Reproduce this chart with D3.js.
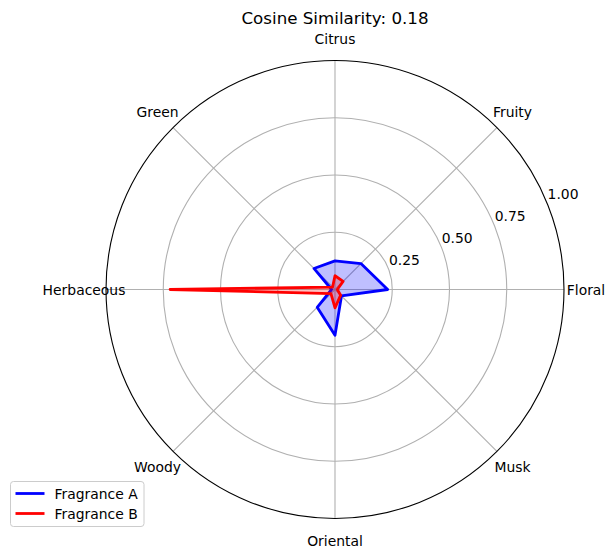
<!DOCTYPE html>
<html>
<head>
<meta charset="utf-8">
<script src="https://cdn.jsdelivr.net/npm/d3@7"></script>
<style>
  body { margin: 0; background: #fff; }
  svg { font-family: "DejaVu Sans", sans-serif; }
</style>
</head>
<body>
<div id="vis"></div>
<script>
// categorias en orden antihorario desde 0 grados (derecha)
const CATEGORIES = ["Floral", "Fruity", "Citrus", "Green", "Herbaceous", "Woody", "Oriental", "Musk"];
const FRAGRANCE_A = [0.23, 0.16, 0.125, 0.13, 0.015, 0.11, 0.2, 0.04];
const FRAGRANCE_B = [0.01, 0.05, 0.06, 0.015, 0.72, 0.025, 0.08, 0.035];
const R_TICKS = [0.25, 0.5, 0.75, 1.0];
const TITLE = "Cosine Similarity: 0.18";
const SERIES_NAMES = ["Fragrance A", "Fragrance B"];

const WIDTH = 615;
const HEIGHT = 557;
const CX = 335;
const CY = 289.5;
const RADIUS = 229;

const SVG = d3.select("#vis").append("svg")
    .attr("width", WIDTH)
    .attr("height", HEIGHT);

const escalaR = d3.scaleLinear().domain([0, 1]).range([0, RADIUS]);
// angulo matematico (0 = este, antihorario)
const escalaTheta = d3.scaleLinear().domain([0, CATEGORIES.length]).range([0, 2 * Math.PI]);

const px = (i, r) => CX + escalaR(r) * Math.cos(escalaTheta(i));
const py = (i, r) => CY - escalaR(r) * Math.sin(escalaTheta(i));

const contenedor = SVG.append("g");

// grilla circular
contenedor.selectAll(".grid-circle")
    .data(R_TICKS.slice(0, -1))
    .join("circle")
    .attr("cx", CX).attr("cy", CY)
    .attr("r", d => escalaR(d))
    .attr("fill", "none")
    .attr("stroke", "#b0b0b0")
    .attr("stroke-width", 1.1);

// rayos
contenedor.selectAll(".spoke")
    .data(CATEGORIES)
    .join("line")
    .attr("x1", CX).attr("y1", CY)
    .attr("x2", (d, i) => px(i, 1))
    .attr("y2", (d, i) => py(i, 1))
    .attr("stroke", "#b0b0b0")
    .attr("stroke-width", 1.1);

// borde exterior
contenedor.append("circle")
    .attr("cx", CX).attr("cy", CY)
    .attr("r", escalaR(1))
    .attr("fill", "none")
    .attr("stroke", "black")
    .attr("stroke-width", 1.1);

// series
const linea = d3.line()
    .x((d, i) => px(i, d))
    .y((d, i) => py(i, d))
    .curve(d3.curveLinearClosed);

const series = [
    { values: FRAGRANCE_A, color: "blue" },
    { values: FRAGRANCE_B, color: "red" }
];

series.forEach(s => {
    contenedor.append("path")
        .datum(s.values)
        .attr("d", linea)
        .attr("fill", s.color)
        .attr("fill-opacity", 0.25)
        .attr("stroke", "none");
    contenedor.append("path")
        .datum(s.values)
        .attr("d", linea)
        .attr("fill", "none")
        .attr("stroke", s.color)
        .attr("stroke-width", 2.8)
        .attr("stroke-linejoin", "round");
});

// etiquetas de categorias
const LABEL_R = 1 + 22 / RADIUS;
contenedor.selectAll(".cat-label")
    .data(CATEGORIES)
    .join("text")
    .attr("x", (d, i) => px(i, LABEL_R))
    .attr("y", (d, i) => py(i, LABEL_R))
    .attr("text-anchor", "middle")
    .attr("dominant-baseline", "central")
    .attr("font-size", 13.9)
    .text(d => d);

// etiquetas radiales a 22.5 grados
const rAng = 22.5 * Math.PI / 180;
contenedor.selectAll(".r-label")
    .data(R_TICKS)
    .join("text")
    .attr("x", d => CX + escalaR(d) * Math.cos(rAng) + 1)
    .attr("y", d => CY - escalaR(d) * Math.sin(rAng) - 3)
    .attr("text-anchor", "start")
    .attr("font-size", 13.9)
    .text(d => d3.format(".2f")(d));

// titulo
SVG.append("text")
    .attr("x", CX)
    .attr("y", 24)
    .attr("text-anchor", "middle")
    .attr("font-size", 16.7)
    .text(TITLE);

// leyenda
const leyenda = SVG.append("g").attr("transform", "translate(10.5 481.5)");
leyenda.append("rect")
    .attr("width", 133.5).attr("height", 45)
    .attr("rx", 3)
    .attr("fill", "white").attr("fill-opacity", 0.8)
    .attr("stroke", "#cccccc");
series.forEach((s, i) => {
    const y = 12 + i * 20;
    leyenda.append("line")
        .attr("x1", 5).attr("x2", 34)
        .attr("y1", y).attr("y2", y)
        .attr("stroke", s.color)
        .attr("stroke-width", 2.8);
    leyenda.append("text")
        .attr("x", 44)
        .attr("y", y)
        .attr("dominant-baseline", "central")
        .attr("font-size", 13.9)
        .text(SERIES_NAMES[i]);
});
</script>
</body>
</html>
